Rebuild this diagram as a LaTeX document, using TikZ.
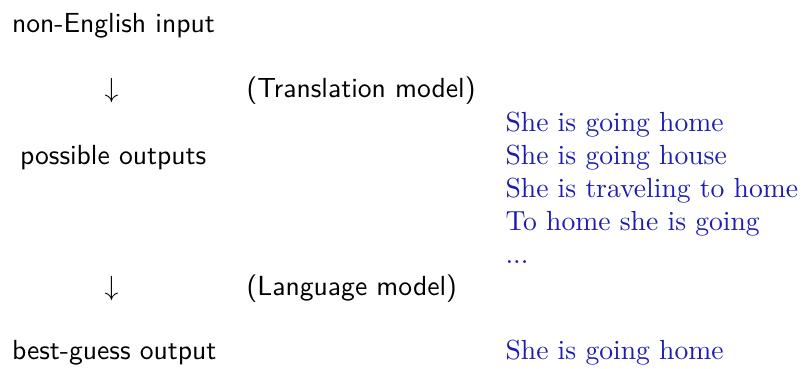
\documentclass[tikz,border=0pt]{standalone}
\definecolor{outblue}{RGB}{28,28,176}
\tikzset{
  lbl/.style={anchor=base west, inner sep=0pt, font=\sffamily},
  sent/.style={anchor=base west, inner sep=0pt, text=outblue, font=\rmfamily},
  arr/.style={anchor=base, inner sep=0pt},
}
\begin{document}
\begin{tikzpicture}[x=0.362pt, y=-0.362pt]
\useasboundingbox (0,0) rectangle (802,368);
\node[lbl] (input) at (11.5,32) {non-English input};
\node[arr] (a1) at (111.5,97) {$\downarrow$};
\node[lbl] (tm) at (246,97) {(Translation model)};
\node[lbl] (poss) at (19.5,164) {possible outputs};
\node[sent] (s1) at (505,131) {She is going home};
\node[sent] (s2) at (505,164) {She is going house};
\node[sent] (s3) at (505,197) {She is traveling to home};
\node[sent] (s4) at (505,230) {To home she is going};
\node[sent] (s5) at (505,263) {...};
\node[arr] (a2) at (111.5,295) {$\downarrow$};
\node[lbl] (lm) at (246,295) {(Language model)};
\node[lbl] (best) at (11.5,359) {best-guess output};
\node[sent] (res) at (505,359) {She is going home};
\end{tikzpicture}
\end{document}
